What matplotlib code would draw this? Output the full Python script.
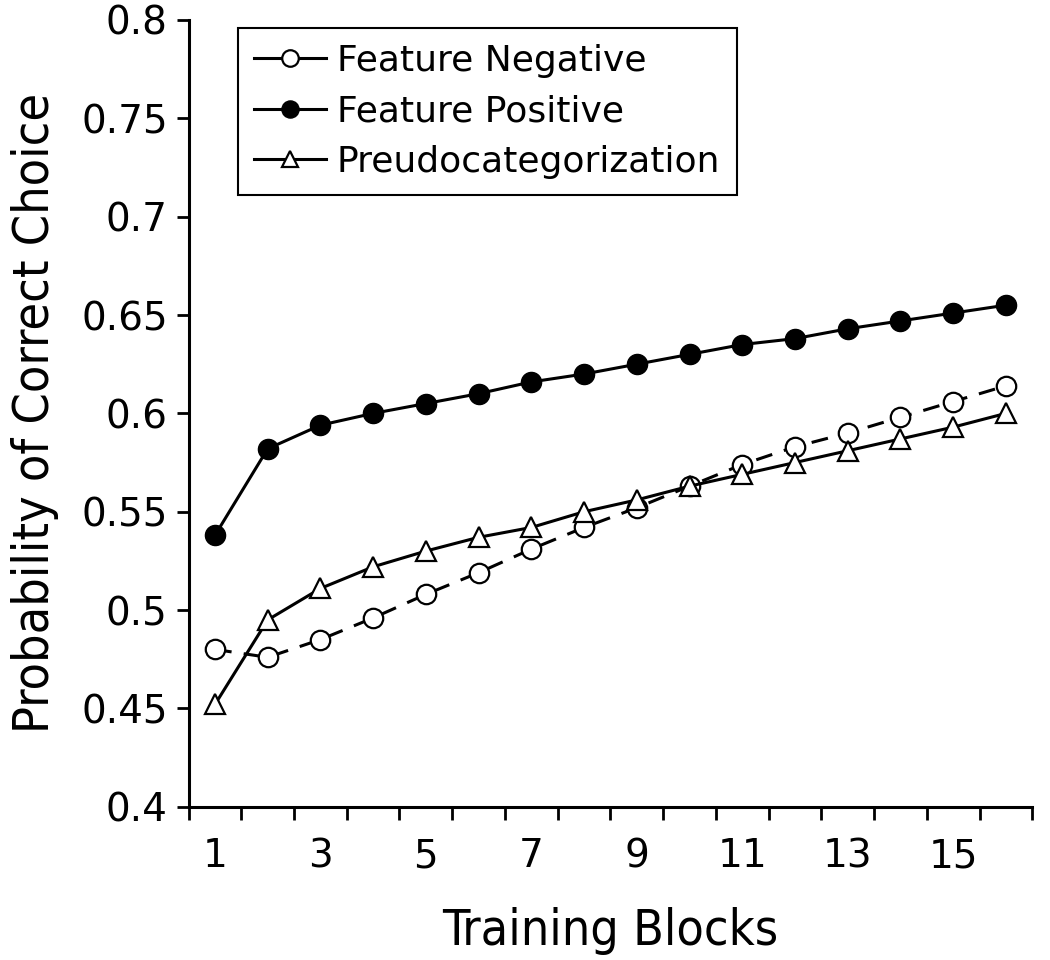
import matplotlib
matplotlib.use("Agg")
import matplotlib.pyplot as plt
import numpy as np

# datos
blocks = list(range(1, 17))
feature_negative = [0.480, 0.476, 0.485, 0.496, 0.508, 0.519, 0.531, 0.542,
                    0.552, 0.563, 0.574, 0.583, 0.590, 0.598, 0.606, 0.614]
feature_positive = [0.538, 0.582, 0.594, 0.600, 0.605, 0.610, 0.616, 0.620,
                    0.625, 0.630, 0.635, 0.638, 0.643, 0.647, 0.651, 0.655]
pseudo_cat = [0.452, 0.495, 0.511, 0.522, 0.530, 0.537, 0.542, 0.550,
              0.556, 0.563, 0.569, 0.575, 0.581, 0.587, 0.593, 0.600]
y_ticks = [0.4, 0.45, 0.5, 0.55, 0.6, 0.65, 0.7, 0.75, 0.8]
y_tick_labels = ["0.4", "0.45", "0.5", "0.55", "0.6", "0.65", "0.7", "0.75", "0.8"]
x_labels = [1, 3, 5, 7, 9, 11, 13, 15]

fig = plt.figure(figsize=(10.5, 9.6), dpi=100)
ax = fig.add_axes([0.1796, 0.1596, 0.8035, 0.8196])

ax.plot(blocks, feature_negative, color="black", lw=2.2, dashes=(5.5, 4),
        marker="o", markersize=14, markerfacecolor="white",
        markeredgecolor="black", markeredgewidth=1.6, label="Feature Negative")
ax.plot(blocks, feature_positive, color="black", lw=2.2, marker="o",
        markersize=14.5, markerfacecolor="black", markeredgecolor="black",
        label="Feature Positive")
ax.plot(blocks, pseudo_cat, color="black", lw=2.2, marker="^",
        markersize=14, markerfacecolor="white", markeredgecolor="black",
        markeredgewidth=1.6, label="Preudocategorization")

ax.set_xlim(0.5, 16.5)
ax.set_ylim(0.4, 0.8)
ax.set_yticks(y_ticks)
ax.set_yticklabels(y_tick_labels)
ax.set_xticks(x_labels)
ax.set_xticklabels([str(v) for v in x_labels])
ax.set_xticks(np.arange(0.5, 17, 1), minor=True)

for s in ["top", "right"]:
    ax.spines[s].set_visible(False)
for s in ["left", "bottom"]:
    ax.spines[s].set_linewidth(2.2)

ax.tick_params(axis="y", which="major", length=9, width=2, labelsize=28, pad=6)
ax.tick_params(axis="x", which="major", length=0, labelsize=28, pad=22)
ax.tick_params(axis="x", which="minor", length=9, width=2)

lab_font = dict(family="DejaVu Sans", stretch="condensed", size=36)
ax.set_xlabel("Training Blocks", labelpad=23, **lab_font)
ax.set_ylabel("Probability of Correct Choice", labelpad=16, **lab_font)

leg = ax.legend(loc="upper left", bbox_to_anchor=(0.058, 0.99),
                borderaxespad=0, fontsize=26, fancybox=False, framealpha=1,
                edgecolor="black", handlelength=2.0, handletextpad=0.3,
                labelspacing=0.45, borderpad=0.45, markerscale=0.85)
leg.get_frame().set_linewidth(1.5)
# en la leyenda la linea de Feature Negative es continua
leg.get_lines()[0].set_linestyle("-")

fig.savefig("out.png", dpi=100)
